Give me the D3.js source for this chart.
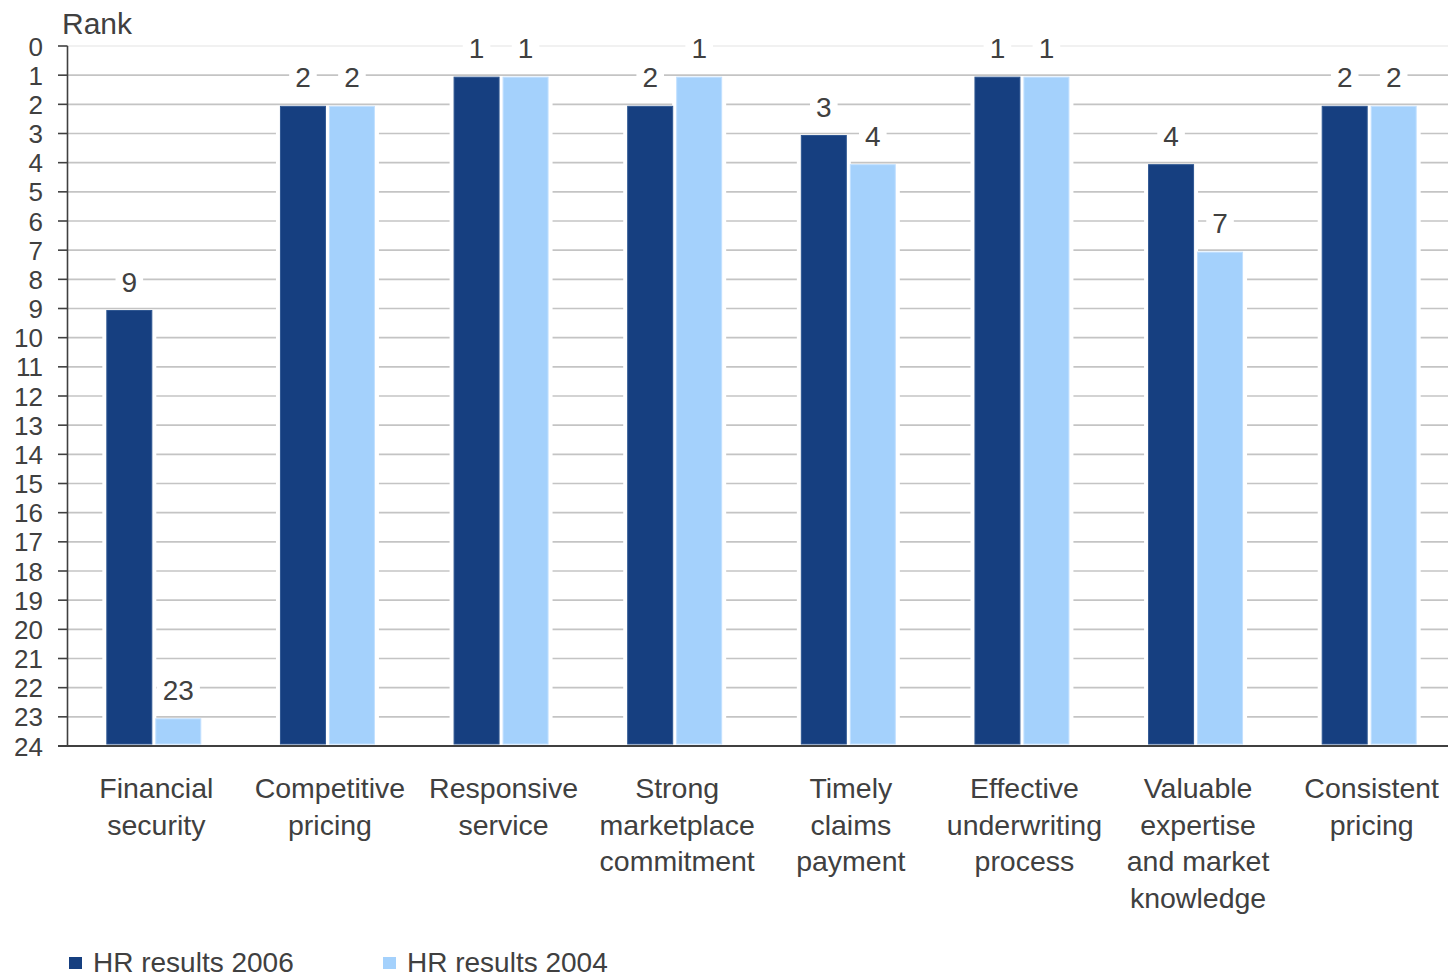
<!DOCTYPE html>
<html>
<head>
<meta charset="utf-8">
<script src="https://cdn.jsdelivr.net/npm/d3@7"></script>
<style>
  html, body { margin: 0; padding: 0; background: #fff; }
  svg { display: block; }
  text { font-family: "Liberation Sans", Arial, sans-serif; fill: #404040; }
</style>
</head>
<body>
<svg id="chart" width="1448" height="978"></svg>
<script>
// Rank per attribute (1 = best), shown on an inverted 0–24 scale
const categories = [
  ["Financial", "security"],
  ["Competitive", "pricing"],
  ["Responsive", "service"],
  ["Strong", "marketplace", "commitment"],
  ["Timely", "claims", "payment"],
  ["Effective", "underwriting", "process"],
  ["Valuable", "expertise", "and market", "knowledge"],
  ["Consistent", "pricing"]
];
const seriesNames = ["HR results 2006", "HR results 2004"];
const results2006 = [9, 2, 1, 2, 3, 1, 4, 2];
const results2004 = [23, 2, 1, 1, 4, 1, 7, 2];
const yTicks = d3.range(0, 25);
const colors = ["#163f80", "#a4d1fc"];
const edgeColors = ["#2f5792", "#c2e0ff"];

const svg = d3.select("#chart");
const catKeys = categories.map(c => c.join(" "));

const x0 = d3.scaleBand().domain(catKeys).range([67, 1456])
  .paddingInner(0.453).paddingOuter(0.2265);
const x1 = d3.scaleBand().domain(seriesNames).range([0, x0.bandwidth()])
  .paddingInner(0.0612);
const y = d3.scaleLinear().domain([0, 24]).range([46, 746]);

// Horizontal gridlines
svg.append("g").selectAll("line").data(yTicks).join("line")
  .attr("x1", 67).attr("x2", 1448)
  .attr("y1", d => y(d)).attr("y2", d => y(d))
  .attr("stroke", d => d === 0 ? "#ececec" : "#c4c4c4")
  .attr("stroke-width", 1.6);

const rows = catKeys.map((k, i) => ({ key: k, values: [results2006[i], results2004[i]] }));
const bars = [];
rows.forEach(r => r.values.forEach((v, j) => bars.push({ key: r.key, s: seriesNames[j], j, v })));

// White halo behind each bar keeps gridlines clear of the bars
const gBars = svg.append("g");
gBars.selectAll("rect.halo").data(bars).join("rect")
  .attr("class", "halo")
  .attr("x", d => x0(d.key) + x1(d.s) - 4)
  .attr("width", x1.bandwidth() + 8)
  .attr("y", d => y(d.v) + 1.5)
  .attr("height", d => y(24) - y(d.v) - 1.5)
  .attr("fill", "#fff");

gBars.selectAll("rect.bar").data(bars).join("rect")
  .attr("class", "bar")
  .attr("x", d => x0(d.key) + x1(d.s) + 0.5)
  .attr("width", x1.bandwidth() - 1)
  .attr("y", d => y(d.v) + 2)
  .attr("height", d => y(24) - y(d.v) - 4)
  .attr("fill", d => colors[d.j])
  .attr("stroke", d => edgeColors[d.j])
  .attr("stroke-width", 1);

// Value labels with white backing
const gLab = svg.append("g");
bars.forEach(d => {
  const cx = x0(d.key) + x1(d.s) + x1.bandwidth() / 2;
  const by = y(d.v) - 17;
  const t = gLab.append("text")
    .attr("x", cx).attr("y", by)
    .attr("text-anchor", "middle")
    .style("font-size", "28px")
    .text(d.v);
  const w = t.node().getComputedTextLength();
  gLab.insert("rect", "text")
    .attr("x", cx - w / 2 - 6).attr("width", w + 12)
    .attr("y", by - 26).attr("height", 32)
    .attr("fill", "#fff");
});

// Y axis
const gy = svg.append("g");
gy.append("line").attr("x1", 67.5).attr("x2", 67.5)
  .attr("y1", y(0)).attr("y2", y(24))
  .attr("stroke", "#404040").attr("stroke-width", 1.6);
gy.selectAll("line.tick").data(yTicks).join("line")
  .attr("class", "tick")
  .attr("x1", 58).attr("x2", 67.5)
  .attr("y1", d => y(d)).attr("y2", d => y(d))
  .attr("stroke", "#404040").attr("stroke-width", 1.6);
gy.selectAll("text").data(yTicks).join("text")
  .attr("x", 43).attr("y", d => y(d) + 9.5)
  .attr("text-anchor", "end")
  .style("font-size", "26px")
  .text(d => d);

svg.append("text").attr("x", 62).attr("y", 34)
  .style("font-size", "30px").text("Rank");

// X axis baseline
svg.append("line").attr("x1", 58).attr("x2", 1448)
  .attr("y1", y(24)).attr("y2", y(24))
  .attr("stroke", "#404040").attr("stroke-width", 1.8);

// Category labels
const gx = svg.append("g");
categories.forEach((lines, i) => {
  const cx = x0(catKeys[i]) + x0.bandwidth() / 2 + 2.5;
  const t = gx.append("text").attr("text-anchor", "middle").style("font-size", "28.5px");
  lines.forEach((ln, k) => {
    t.append("tspan").attr("x", cx).attr("y", 798 + k * 36.5).text(ln);
  });
});

// Legend
const legendX = [69, 383];
const gLeg = svg.append("g");
seriesNames.forEach((s, i) => {
  gLeg.append("rect").attr("x", legendX[i]).attr("y", 957)
    .attr("width", 13).attr("height", 12).attr("fill", colors[i]);
  gLeg.append("text").attr("x", legendX[i] + 24).attr("y", 971.5)
    .style("font-size", "28px").text(s);
});
</script>
</body>
</html>
